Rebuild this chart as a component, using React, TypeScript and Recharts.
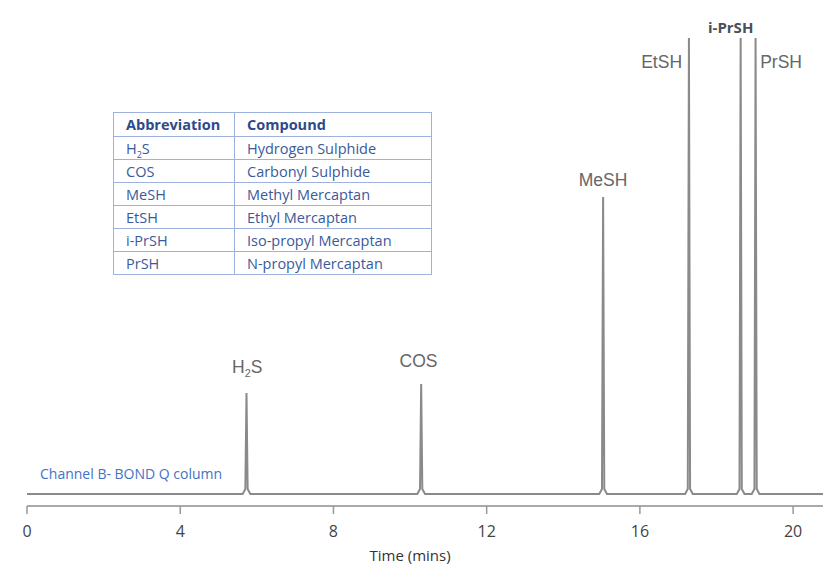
import React from 'react';
import { ComposedChart, Line, Scatter, XAxis, YAxis } from 'recharts';

// Chromatogram trace (time in minutes, detector signal in arbitrary units)
const TIME = [
  0,
  5.63, 5.7, 5.73, 5.76, 5.83,
  10.19, 10.26, 10.29, 10.32, 10.39,
  14.94, 15.01, 15.04, 15.07, 15.14,
  17.18, 17.25, 17.28, 17.31, 17.38,
  18.53, 18.6, 18.63, 18.66, 18.73,
  18.92, 18.99, 19.02, 19.05, 19.12,
  20.78,
];
const SIGNAL = [
  0,
  0, 5, 101, 5, 0,
  0, 5, 110, 5, 0,
  0, 5, 297, 5, 0,
  0, 5, 456, 5, 0,
  0, 5, 456, 5, 0,
  0, 5, 456, 5, 0,
  0,
];

// Peak labels
const PEAK_NAMES = ['H2S', 'COS', 'MeSH', 'EtSH', 'i-PrSH', 'PrSH'];
const PEAK_LABEL_T = [5.75, 10.22, 15.04, 17.1, 18.37, 19.14];
const PEAK_LABEL_V = [121, 127, 308, 426, 461, 426];
const PEAK_ANCHOR = ['middle', 'middle', 'middle', 'end', 'middle', 'start'];

const X_TICKS = [0, 4, 8, 12, 16, 20];
const X_MAX = 20.78;

// Table
const ABBREVIATIONS = ['H2S', 'COS', 'MeSH', 'EtSH', 'i-PrSH', 'PrSH'];
const COMPOUNDS = [
  'Hydrogen Sulphide',
  'Carbonyl Sulphide',
  'Methyl Mercaptan',
  'Ethyl Mercaptan',
  'Iso-propyl Mercaptan',
  'N-propyl Mercaptan',
];

const trace = TIME.map((t, i) => ({ t, v: SIGNAL[i] }));
const labels = PEAK_NAMES.map((name, i) => ({
  t: PEAK_LABEL_T[i],
  v: PEAK_LABEL_V[i],
  name,
  anchor: PEAK_ANCHOR[i],
}));

const renderName = (name: string, size: number) => {
  if (name === 'H2S') {
    return (
      <>
        H
        <tspan fontSize={size * 0.62} dy={4}>2</tspan>
        <tspan fontSize={size} dy={-4}>S</tspan>
      </>
    );
  }
  return name;
};

const LabelShape = (props: any) => {
  const { cx, cy, payload } = props;
  const bold = payload.name === 'i-PrSH';
  return (
    <text
      x={cx}
      y={cy}
      textAnchor={payload.anchor}
      fontFamily={bold ? 'Open Sans' : 'Liberation Sans, Arial, sans-serif'}
      fontWeight={bold ? 700 : 400}
      fontSize={bold ? 15 : 17.5}
      fill={bold ? '#4a4f5a' : '#666'}
    >
      {renderName(payload.name, 17.5)}
    </text>
  );
};

const cellBorder = '1.5px solid #9db3dd';
const tableFont = "'Open Sans', sans-serif";

export default function App() {
  return (
    <div style={{ position: 'absolute', left: 0, top: 0, width: 823, height: 570, background: '#fff' }}>
      <ComposedChart
        width={823}
        height={570}
        margin={{ top: 24, right: 0, left: 27, bottom: 34 }}
      >
        <XAxis
          dataKey="t"
          type="number"
          domain={[0, X_MAX]}
          ticks={X_TICKS}
          height={30}
          tickSize={8}
          tickMargin={12}
          axisLine={{ stroke: '#aaa', strokeWidth: 2 }}
          tickLine={{ stroke: '#999', strokeWidth: 1.5 }}
          tick={{ fill: '#444', fontSize: 16, fontFamily: 'Open Sans' }}
          label={{
            content: (p: any) => {
              const vb = p.viewBox;
              return (
                <text
                  x={vb.x + (vb.width * 10) / X_MAX}
                  y={vb.y + 55}
                  textAnchor="middle"
                  fontFamily="Open Sans"
                  fontSize={15}
                  fill="#333"
                >
                  Time (mins)
                </text>
              );
            },
          }}
        />
        <YAxis type="number" dataKey="v" domain={[-12, 470]} hide />
        <Line
          data={trace}
          dataKey="v"
          type="linear"
          stroke="#8a8a8a"
          strokeWidth={2}
          dot={false}
          isAnimationActive={false}
        />
        <Scatter data={labels} dataKey="v" shape={LabelShape} isAnimationActive={false} />
      </ComposedChart>

      <div
        style={{
          position: 'absolute',
          left: 40,
          top: 464,
          color: '#4472c4',
          fontFamily: tableFont,
          fontSize: 14,
          letterSpacing: 0,
        }}
      >
        Channel B- BOND Q column
      </div>

      <table
        style={{
          position: 'absolute',
          left: 113,
          top: 112,
          width: 319,
          borderCollapse: 'collapse',
          fontFamily: tableFont,
          fontSize: 14.5,
          color: '#3a5a9c',
          border: cellBorder,
        }}
      >
        <tbody>
          <tr style={{ height: 24 }}>
            <td style={{ width: 108, border: cellBorder, padding: '0 0 0 12px', fontWeight: 700, color: '#2e4a8a', lineHeight: '20px' }}>
              Abbreviation
            </td>
            <td style={{ border: cellBorder, padding: '0 0 0 12px', fontWeight: 700, color: '#2e4a8a', lineHeight: '20px' }}>Compound</td>
          </tr>
          {ABBREVIATIONS.map((a, i) => (
            <tr key={a} style={{ height: 23 }}>
              <td style={{ border: cellBorder, padding: '0 0 0 12px', lineHeight: '19px' }}>
                {a === 'H2S' ? (
                  <>
                    H<sub style={{ fontSize: 9, lineHeight: 0 }}>2</sub>S
                  </>
                ) : (
                  a
                )}
              </td>
              <td style={{ border: cellBorder, padding: '0 0 0 12px', lineHeight: '19px' }}>{COMPOUNDS[i]}</td>
            </tr>
          ))}
        </tbody>
      </table>
    </div>
  );
}
